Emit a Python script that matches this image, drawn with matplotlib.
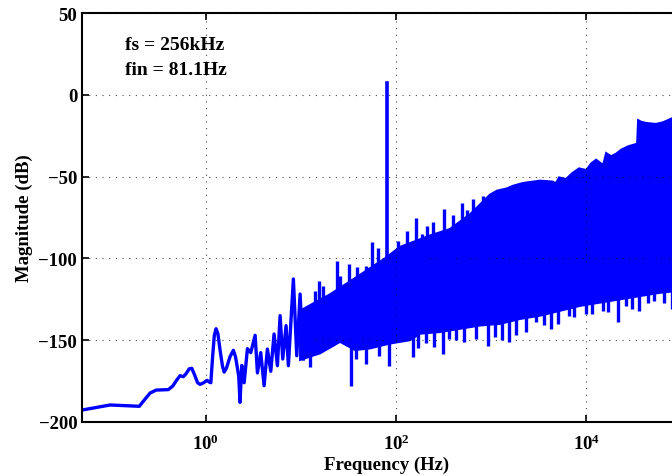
import numpy as np
import matplotlib
matplotlib.use("Agg")
import matplotlib.pyplot as plt
from matplotlib.ticker import NullLocator

plt.rcParams['font.family'] = ['Liberation Serif', 'DejaVu Serif']
plt.rcParams['font.weight'] = 'bold'
plt.rcParams['mathtext.fontset'] = 'custom'
plt.rcParams['mathtext.rm'] = 'Liberation Serif:bold'
plt.rcParams['mathtext.bf'] = 'Liberation Serif:bold'
plt.rcParams['axes.unicode_minus'] = True

# low frequency part of the spectrum (clean line)
low_f = [0.05, 0.0987, 0.200, 0.230, 0.260, 0.300, 0.404, 0.450, 0.500, 0.537,
         0.580, 0.620, 0.670, 0.713, 0.760, 0.820, 0.871, 0.950, 1.030, 1.080,
         1.130, 1.180, 1.230, 1.283, 1.340, 1.420, 1.500, 1.560, 1.650, 1.800,
         1.950, 2.050, 2.150, 2.220, 2.29, 2.39, 2.53, 2.74,
         2.97, 3.30, 3.49, 3.78, 4.10, 4.44, 4.82, 5.22, 5.66, 6.04,
         6.44, 6.98, 7.38, 8.33, 9.04, 9.80, 10.6]
low_db = [-192.7, -189.6, -190.4, -186.0, -182.3, -180.5, -180.2, -178.0, -174.0, -171.7,
          -172.3, -170.5, -167.5, -167.2, -171.0, -176.0, -177.0, -176.0, -174.5, -175.5,
          -176.0, -160.0, -147.0, -143.0, -146.0, -157.0, -166.0, -169.5, -167.0, -160.0,
          -156.2, -160.0, -167.0, -172.0, -188.0, -165.4, -176.0, -155.2,
          -157.6, -147.0, -170.0, -157.6, -177.8, -155.4, -169.0, -146.2, -165.6, -135.0,
          -161.5, -141.1, -165.6, -112.6, -159.5, -121.8, -161.5]

# dense part: upper and lower edges of the noise band
up_f = [9.80, 15.0, 20.2, 32.9, 53.3, 76.4, 110, 228, 369, 600, 973,
        1152, 1468, 1697, 2161, 3262, 4360, 4803, 5166, 6116, 7074,
        8381, 10000, 11230, 12670, 15010, 16140, 18210, 20560, 23200, 27490,
        33360, 34180, 35010, 37640, 42490, 46800, 54110, 64090, 79430, 128000]
up_db = [-132, -126, -122, -114, -106, -100, -93, -86, -82, -73, -61,
         -58.6, -57.2, -55.6, -53.9, -52.5, -53.0, -54.0, -50.5, -51.5, -48.0,
         -45.0, -46.0, -42.0, -39.7, -42.9, -35.6, -37.6, -36.0, -33.6, -31.5,
         -30.1, -30.0, -15.5, -16.5, -17.2, -17.5, -17.8, -16.8, -14.4, -15.0]

lo_f = [9.80, 15.9, 25.8, 37.1, 53.3, 86.5, 140, 179, 290, 471,
        764, 1239, 2010, 3262, 5292, 8586, 13930, 22601, 36670, 59520, 128000]
lo_db = [-162, -158, -151, -156, -155, -152, -150, -146, -145, -143,
         -141, -140, -137, -135, -132, -129, -127, -125, -123, -121, -119]

# isolated peaks above / dips below the band
peak_f = [11.89, 14.08, 15.63, 16.97, 18.70, 21.10, 23.82, 25.79, 27.93, 32.30,
          35.58, 39.20, 42.56, 48.04, 55.55, 65.16, 70.74, 90.1, 105.7, 114.8,
          129.6, 140.3, 162.3, 171.6, 186.3, 213.3, 243.0, 278.4, 321.8, 369.4,
          400.2, 490.3, 553.4, 640.0, 732.7, 815.3]
peak_db = [-131.0, -119.7, -113.6, -116.7, -125.9, -122.8, -101.4, -110.6, -123.2, -103.4,
           -120.7, -105.4, -111.6, -104.8, -90.2, -93.8, -102.4, -100.4, -89.2, -94.3,
           -83.0, -94.3, -75.6, -95.2, -85.1, -80.4, -77.6, -85.1, -69.8, -84.0,
           -73.5, -66.1, -70.4, -63.7, -68.2, -62.0]
dip_f = [12.48, 33.7, 38.0, 48.4, 66.8, 84.0, 149.8, 170, 205, 250,
         309.6, 363.2, 430, 520, 700, 919.8, 1100, 1300, 1551, 1800,
         2300, 2960, 3600, 4256, 5000, 6626, 7500, 9927, 11500, 14870,
         17000, 21380, 26140, 30000, 36060, 44000, 52000, 65000, 79560]
dip_db = [-166.6, -177.8, -161.5, -164.5, -159.5, -165.6, -160.5, -155.0, -152.0, -154.0,
          -158.4, -149.3, -150.0, -151.0, -149.0, -153.4, -148.0, -150.0, -151.3, -147.0,
          -145.0, -139.0, -141.0, -143.2, -140.0, -135.0, -136.0, -134.0, -134.0, -132.0,
          -133.0, -139.0, -128.9, -131.0, -132.0, -127.0, -126.0, -127.0, -130.9]

# input tone
tone_f = [81.1, 81.1]
tone_db = [-140, 7.0]

fs_text = 'fs = 256kHz'
fin_text = 'fin = 81.1Hz'

blue = (0, 0, 1)

fig = plt.figure(figsize=(6.72, 4.77), dpi=100)
ax = fig.add_axes([82 / 672, 54 / 477, 609.7 / 672, 409 / 477])

ax.plot(low_f, low_db, color=blue, lw=2.4, solid_joinstyle='round')
ax.fill(up_f + lo_f[::-1], up_db + lo_db[::-1], color=blue, lw=1.5)
ax.vlines(peak_f, -140, peak_db, color=blue, lw=2.4)
ax.vlines(dip_f, dip_db, np.array(dip_db) + 28, color=blue, lw=2.4)
ax.plot(tone_f, tone_db, color=blue, lw=2.6)

ax.set_xscale('log')
ax.set_xlim(0.05, 1.28e5)
ax.set_ylim(-200, 50)
ax.set_xticks([1, 1e2, 1e4])
ax.xaxis.set_minor_locator(NullLocator())
ax.set_yticks([-200, -150, -100, -50, 0, 50])

ax.grid(True, color='k', linestyle=(0, (1, 5)), lw=0.8, alpha=0.7)
ax.tick_params(direction='in', length=5, width=1.2, labelsize=13.5, top=True, right=True)
ax.tick_params(axis='x', pad=8)
for s in ax.spines.values():
    s.set_linewidth(1.5)

ax.set_xlabel('Frequency (Hz)', fontsize=13.5, fontweight='bold', labelpad=2)
ax.set_ylabel('Magnitude (dB)', fontsize=13.5, fontweight='bold', labelpad=4)

ax.text(0.0706, 0.912, fs_text, transform=ax.transAxes, fontsize=14, fontweight='bold')
ax.text(0.0706, 0.851, fin_text, transform=ax.transAxes, fontsize=14, fontweight='bold')

fig.savefig('out.png', dpi=100)
